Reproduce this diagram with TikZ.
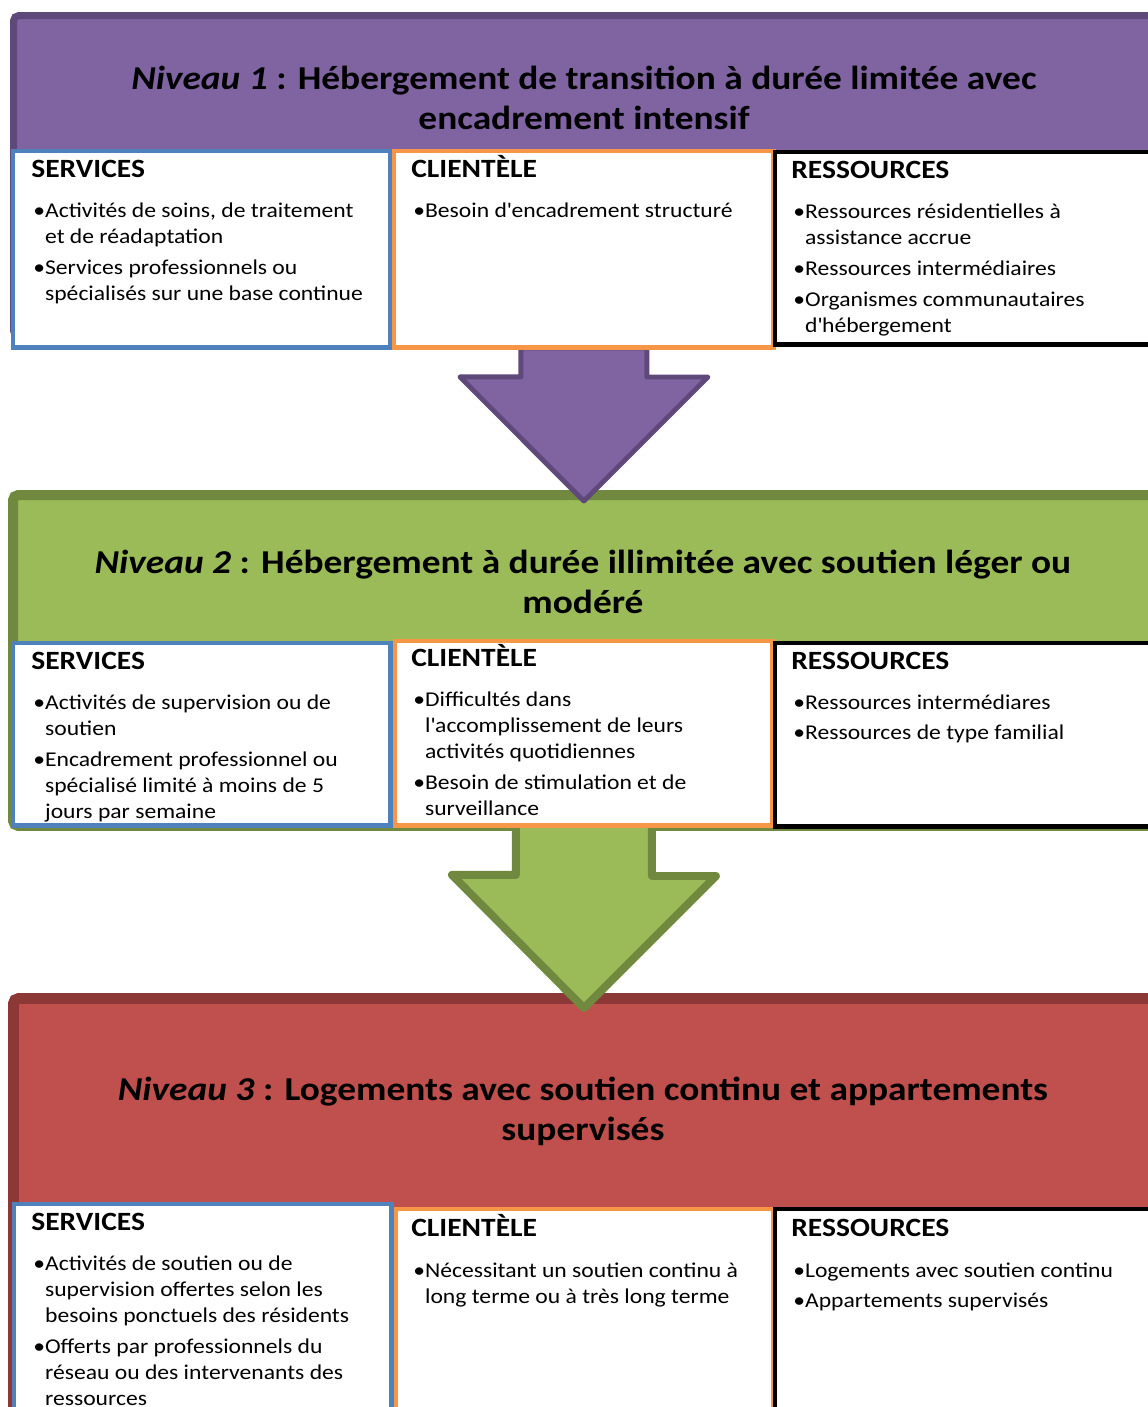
\documentclass[tikz,border=0pt]{standalone}
\usepackage{fontspec}
\setmainfont[FakeStretch=1.12]{Carlito}
\usetikzlibrary{calc}
\pgfdeclarelayer{background}
\pgfsetlayers{background,main}

\definecolor{purp}{HTML}{8064A2}
\definecolor{purpdark}{HTML}{5F497A}
\definecolor{grn}{HTML}{9BBB59}
\definecolor{grndark}{HTML}{71893F}
\definecolor{rouge}{HTML}{C0504D}
\definecolor{rougedark}{HTML}{8C3836}
\definecolor{bleu}{HTML}{4F81BD}
\definecolor{orng}{HTML}{F79646}

\newlength\bulw
\newcommand\itm{\par\hangindent=\bulw\hangafter=1\noindent\textbullet}
\newcommand\liste[1]{\parbox[t]{7.4cm}{\fontsize{12}{14.9}\selectfont\settowidth\bulw{\textbullet}\raggedright\setlength\parskip{2.7pt}#1}}
\newcommand\apo{\textquotesingle}

\begin{document}
\begin{tikzpicture}[x=0.02cm, y=-0.02cm,
band/.style={rounded corners=3pt, anchor=north west, inner sep=0},
box/.style={draw, fill=white, line width=2.8pt, anchor=north west, inner sep=0},
titre/.style={align=center, font=\fontsize{19}{22.7}\selectfont\bfseries},
entete/.style={anchor=base west, inner sep=0, font=\fontsize{15}{18}\selectfont\bfseries},
txt/.style={anchor=base west, inner sep=0},
fleche/.style={line join=round}
]
\useasboundingbox (0,0) rectangle (1147,1407);

%% niveau 1
\node[box, draw=bleu, minimum width=7.56cm, minimum height=3.94cm] (svc1) at (10.5,148.5) {};
\node[box, draw=orng, minimum width=7.6cm, minimum height=3.94cm] (cli1) at (391.5,148.5) {};
\node[box, draw=black, minimum width=7.9cm, minimum height=3.86cm] (res1) at (772.5,149.5) {};
\node[titre] (t1) at (584,98) {\textit{Niveau 1} : Hébergement de transition à durée limitée avec\\ encadrement intensif};
\node[entete] (svc1h) at (31,177) {SERVICES};
\node[txt] (svc1l) at (33,217) {\liste{\itm Activités de soins, de traitement\newline et de réadaptation\itm Services professionnels ou\newline spécialisés sur une base continue}};
\node[entete] (cli1h) at (411,177) {CLIENTÈLE};
\node[txt] (cli1l) at (413,217) {\liste{\itm Besoin d\apo encadrement structuré}};
\node[entete] (res1h) at (791,178) {RESSOURCES};
\node[txt] (res1l) at (793,218) {\liste{\itm Ressources résidentielles à\newline assistance accrue\itm Ressources intermédiaires\itm Organismes communautaires\newline d\apo hébergement}};

%% niveau 2
\node[box, draw=bleu, minimum width=7.56cm, minimum height=3.66cm] (svc2) at (10.5,640.5) {};
\node[box, draw=orng, minimum width=7.56cm, minimum height=3.7cm] (cli2) at (392.5,638.5) {};
\node[box, draw=black, minimum width=7.9cm, minimum height=3.68cm] (res2) at (772.5,640.5) {};
\node[titre] (t2) at (583,582) {\textit{Niveau 2} : Hébergement à durée illimitée avec soutien léger ou\\ modéré};
\node[entete] (svc2h) at (31,669) {SERVICES};
\node[txt] (svc2l) at (33,709) {\liste{\itm Activités de supervision ou de\newline soutien\itm Encadrement professionnel ou\newline spécialisé limité à moins de 5\newline jours par semaine}};
\node[entete] (cli2h) at (411,666) {CLIENTÈLE};
\node[txt] (cli2l) at (413,706) {\liste{\itm Difficultés dans\newline l\apo accomplissement de leurs\newline activités quotidiennes\itm Besoin de stimulation et de\newline surveillance}};
\node[entete] (res2h) at (791,669) {RESSOURCES};
\node[txt] (res2l) at (793,709) {\liste{\itm Ressources intermédiares\itm Ressources de type familial}};

%% niveau 3
\node[box, draw=bleu, minimum width=7.56cm, minimum height=5cm] (svc3) at (11.5,1201.5) {};
\node[box, draw=orng, minimum width=7.56cm, minimum height=5cm] (cli3) at (393.5,1206.5) {};
\node[box, draw=black, minimum width=7.9cm, minimum height=5cm] (res3) at (772.5,1206.5) {};
\node[titre] (t3) at (583,1111) {\textit{Niveau 3} : Logements avec soutien continu et appartements\\ supervisés};
\node[entete] (svc3h) at (31,1230) {SERVICES};
\node[txt] (svc3l) at (33,1270) {\liste{\itm Activités de soutien ou de\newline supervision offertes selon les\newline besoins ponctuels des résidents\itm Offerts par professionnels du\newline réseau ou des intervenants des\newline ressources}};
\node[entete] (cli3h) at (411,1236) {CLIENTÈLE};
\node[txt] (cli3l) at (413,1277) {\liste{\itm Nécessitant un soutien continu à\newline long terme ou à très long terme}};
\node[entete] (res3h) at (791,1236) {RESSOURCES};
\node[txt] (res3l) at (793,1277) {\liste{\itm Logements avec soutien continu\itm Appartements supervisés}};

\begin{pgfonlayer}{background}
\fill[white] (0,0) rectangle (1147,1407);
\node[band, fill=purp, draw=purpdark, line width=4pt, minimum width=23.13cm, minimum height=6.41cm] (niv1) at (10,12) {};
\node[band, fill=grn, draw=grndark, line width=5.7pt, minimum width=23.14cm, minimum height=6.62cm] (niv2) at (8,490) {};
\node[band, fill=rouge, draw=rougedark, line width=6.2pt, minimum width=23.13cm, minimum height=9.03cm] (niv3) at (8,993) {};
% fleches entre niveaux
\coordinate (a1s) at ($(cli1.south)+(0,-2.5)$);
\coordinate (a1t) at ($(cli1.south |- niv2.north)+(0,11)$);
\draw[fleche, fill=purp, draw=purpdark, line width=2.8pt] (a1s) ++(-63,0) -- ++(0,29) -- ++(-61,0) -- (a1t) -- ++(124,-124) -- ++(-61,0) -- ++(0,-29) -- cycle;
\coordinate (a2s) at ($(cli2.south)+(0,-5.5)$);
\coordinate (a2t) at ($(cli2.south |- niv3.north)+(0,15)$);
\draw[fleche, fill=grn, draw=grndark, line width=4.5pt] (a2s) ++(-68,0) -- ++(0,52) -- ++(-64,0) -- (a2t) -- ++(132,-132) -- ++(-64,0) -- ++(0,-52) -- cycle;
\end{pgfonlayer}
\end{tikzpicture}
\end{document}
